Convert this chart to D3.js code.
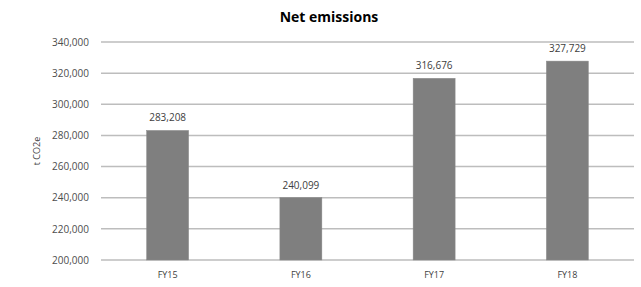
<!DOCTYPE html>
<html lang="en">
<head>
	<meta charset="UTF-8">
	<script type="text/javascript" src="https://d3js.org/d3.v7.min.js"></script>
	<title>Net emissions</title>
	<style>
		body { margin: 0; background: #fff; }
		text { font-family: "Open Sans", sans-serif; }
	</style>
</head>
<body>
<svg id="chart" width="641" height="287"></svg>

<script type="text/javascript">
	// data
	var years = ["FY15", "FY16", "FY17", "FY18"]
	var emissions = [283208, 240099, 316676, 327729]
	var yTicks = [200000, 220000, 240000, 260000, 280000, 300000, 320000, 340000]

	var svg = d3.select("#chart")

	// scales
	var x = d3.scaleBand()
		.domain(years)
		.range([101, 634])
		.paddingInner(0.685)
		.paddingOuter(0.3425);

	var y = d3.scaleLinear()
		.domain([200000, 340000])
		.range([260, 42]);

	var fmt = d3.format(",");

	// gridlines
	svg.append("g")
		.selectAll("line")
		.data(yTicks)
		.enter().append("line")
		.attr("x1", 101).attr("x2", 634)
		.attr("y1", function(d) { return y(d); })
		.attr("y2", function(d) { return y(d); })
		.attr("stroke", "#bdbdbd")
		.attr("stroke-width", 1.5);

	// y axis labels
	var yAxis = svg.append("g")
		.attr("transform", "translate(89,0)")
		.call(d3.axisLeft(y).tickValues(yTicks).tickFormat(fmt).tickSize(0).tickPadding(0));
	yAxis.select(".domain").remove();
	yAxis.selectAll("text")
		.attr("fill", "#4d4d4d")
		.style("font-size", "10px")
		.style("font-family", "'Open Sans', sans-serif");

	// bars
	svg.append("g")
		.selectAll("rect")
		.data(emissions)
		.enter().append("rect")
		.attr("x", function(d, i) { return x(years[i]); })
		.attr("y", function(d) { return y(d); })
		.attr("width", x.bandwidth())
		.attr("height", function(d) { return y(200000) - y(d); })
		.attr("fill", "#7f7f7f")
		.attr("stroke", "#8a8a8a")
		.attr("stroke-width", 0.5);

	// value labels
	svg.append("g")
		.selectAll("text")
		.data(emissions)
		.enter().append("text")
		.attr("x", function(d, i) { return x(years[i]) + x.bandwidth() / 2; })
		.attr("y", function(d) { return y(d) - 9; })
		.attr("text-anchor", "middle")
		.attr("fill", "#404040")
		.style("font-size", "10px")
		.text(function(d) { return fmt(d); });

	// x axis labels
	var xAxis = svg.append("g")
		.attr("transform", "translate(0,272)")
		.call(d3.axisBottom(x).tickSize(0).tickPadding(0));
	xAxis.select(".domain").remove();
	xAxis.selectAll("text")
		.attr("fill", "#404040")
		.style("font-size", "9px")
		.style("font-family", "'Open Sans', sans-serif");

	// y axis title
	svg.append("text")
		.attr("transform", "translate(40,151) rotate(-90)")
		.attr("text-anchor", "middle")
		.attr("fill", "#404040")
		.style("font-size", "9px")
		.text("t CO2e");

	// title
	svg.append("text")
		.attr("x", 329)
		.attr("y", 22)
		.attr("text-anchor", "middle")
		.attr("fill", "#000")
		.style("font-size", "14px")
		.style("font-weight", "bold")
		.text("Net emissions");
</script>

</body>
</html>
